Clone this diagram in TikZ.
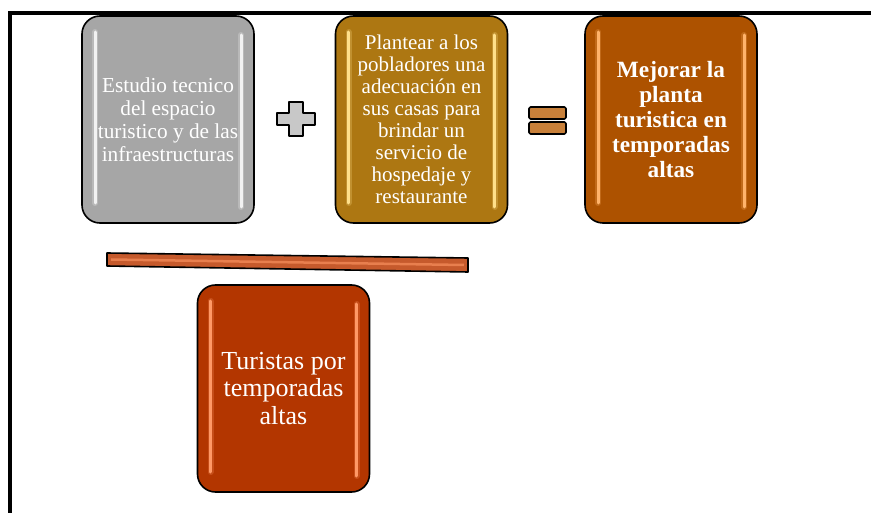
\documentclass[tikz,border=0pt]{standalone}
\usepackage{xcolor}
\usepackage{fontspec}
\setmainfont{Liberation Serif}
\usepackage{tikz}

\definecolor{gris}{HTML}{A6A6A6}
\definecolor{grisluz}{HTML}{F2F2F2}
\definecolor{oro}{HTML}{AD7712}
\definecolor{oroluz}{HTML}{FFE08A}
\definecolor{cafe}{HTML}{AD5200}
\definecolor{cafeluz}{HTML}{FFB36B}
\definecolor{rojo}{HTML}{B33600}
\definecolor{rojoluz}{HTML}{FF9966}
\definecolor{signo}{HTML}{C8C8C8}
\definecolor{igual}{HTML}{C8803A}
\definecolor{barra}{HTML}{C65A2C}

\begin{document}
\begin{tikzpicture}[x=1pt, y=-1pt,
                    caja/.style 2 args={rectangle, draw=black, line width=1.6pt,
                    fill=#1, rounded corners=18pt,
                    minimum width=172pt, minimum height=207pt,
                    text=white, align=center, inner sep=0pt,
                    path picture={
                        \foreach \ancho/\opac in {6pt/0.25, 3pt/1} {
                        \draw[#2, line width=\ancho, opacity=\opac, line cap=round, sharp corners]
                            ([xshift=13pt,yshift=-16pt]path picture bounding box.north west) --
                            ([xshift=13pt,yshift=20pt]path picture bounding box.south west);
                        \draw[#2, line width=\ancho, opacity=\opac, line cap=round, sharp corners]
                            ([xshift=-13pt,yshift=-19pt]path picture bounding box.north east) --
                            ([xshift=-13pt,yshift=16pt]path picture bounding box.south east);
                        }
                    }},
                    contorno/.style={draw=black, line width=1.6pt, line join=round}]
    \useasboundingbox (0,0) rectangle (871,513);
    \draw[line width=3.5pt] (10,513) -- (10,13) -- (871,13);

    \node[caja={gris}{grisluz}, font=\fontsize{21.3}{23}\selectfont] (estudio) at (168,119.5)
        {Estudio tecnico\\del espacio\\turistico y de las\\infraestructuras};
    \node[caja={oro}{oroluz}, font=\fontsize{21}{22}\selectfont] (plantear) at (421.5,119.5)
        {Plantear a los\\pobladores una\\adecuación en\\sus casas para\\brindar un\\servicio de\\hospedaje y\\restaurante};
    \node[caja={cafe}{cafeluz}, font=\fontsize{23.3}{24.8}\selectfont\bfseries] (mejorar) at (671,119.5)
        {Mejorar la\\planta\\turistica en\\temporadas\\altas};
    \node[caja={rojo}{rojoluz}, font=\fontsize{26}{27.5}\selectfont] (turistas) at (283.5,388.5)
        {Turistas por\\temporadas\\altas};

    % signos
    \draw[contorno, fill=signo] (289,102) -- (303,102) -- (303,113) -- (315,113) -- (315,125)
        -- (303,125) -- (303,136) -- (289,136) -- (289,125) -- (277,125) -- (277,113)
        -- (289,113) -- cycle;
    \draw[contorno, fill=igual, rounded corners=1.5pt] (529,107) rectangle (566,119);
    \draw[contorno, fill=igual, rounded corners=1.5pt] (529,122) rectangle (566,134);

    % barra
    \draw[contorno, fill=barra] (107,253) -- (468,258) -- (468,272) -- (107,266) -- cycle;
    \draw[rojoluz, line width=2.5pt, opacity=0.6] (111,259.5) -- (464,265);
\end{tikzpicture}
\end{document}
